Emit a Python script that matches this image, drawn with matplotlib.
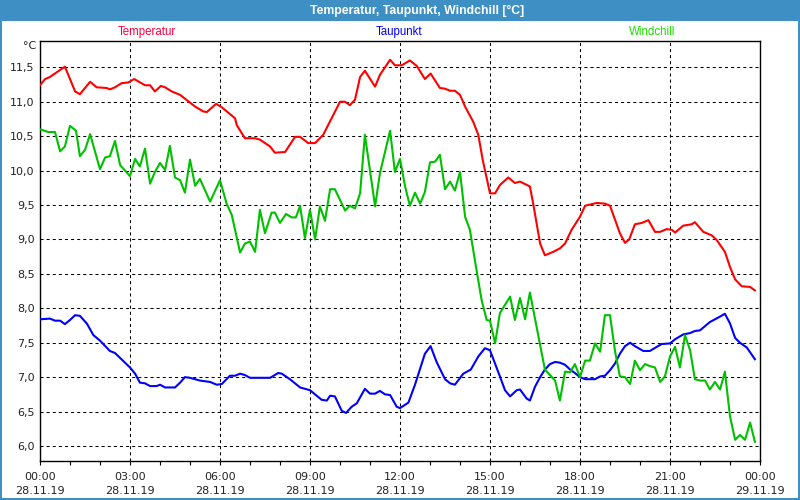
import matplotlib
matplotlib.use("Agg")
import matplotlib.pyplot as plt
from matplotlib.patches import Rectangle
import numpy as np

plt.rcParams['font.family'] = ['DejaVu Sans']
plt.rcParams['lines.scale_dashes'] = False

# ---- data (hours since 28.11.19 00:00, °C) ----
temp_t = [0, 0.17, 0.33, 0.83, 1.17, 1.33, 1.67, 1.89, 2.22, 2.33, 2.5, 2.72, 2.94, 3.14, 3.5, 3.67,
          3.83, 4.03, 4.17, 4.39, 4.67, 5.17, 5.44, 5.56, 5.87, 6.06, 6.5, 6.56, 6.83, 7.17, 7.33, 7.67,
          7.83, 8.17, 8.5, 8.67, 8.94, 9.17, 9.44, 10.0, 10.17, 10.33, 10.5, 10.67, 10.83, 11.17, 11.33,
          11.67, 11.83, 12.06, 12.33, 12.56, 12.83, 13.02, 13.33, 13.5, 13.67, 13.83, 14.0, 14.17, 14.44,
          14.61, 14.76, 15.0, 15.17, 15.33, 15.61, 15.83, 16.0, 16.33, 16.44, 16.67, 16.83, 17.11, 17.33,
          17.5, 17.72, 18.0, 18.17, 18.56, 18.83, 19.0, 19.33, 19.5, 19.64, 19.83, 20.06, 20.28, 20.5,
          20.67, 20.89, 21.06, 21.17, 21.44, 21.72, 21.83, 22.11, 22.39, 22.56, 22.83, 23.0, 23.17, 23.39,
          23.67, 23.83]
temp_v = [11.24, 11.33, 11.36, 11.51, 11.15, 11.11, 11.29, 11.21, 11.20, 11.18, 11.21, 11.27, 11.28,
          11.33, 11.24, 11.24, 11.15, 11.23, 11.21, 11.15, 11.10, 10.93, 10.86, 10.85, 10.97, 10.92,
          10.76, 10.66, 10.47, 10.47, 10.45, 10.35, 10.26, 10.27, 10.49, 10.49, 10.40, 10.40, 10.52,
          11.00, 11.00, 10.95, 11.03, 11.36, 11.45, 11.22, 11.39, 11.61, 11.53, 11.53, 11.60, 11.52,
          11.33, 11.41, 11.20, 11.19, 11.16, 11.16, 11.10, 10.93, 10.71, 10.52, 10.15, 9.67, 9.67, 9.79,
          9.90, 9.82, 9.84, 9.77, 9.52, 8.94, 8.77, 8.82, 8.87, 8.94, 9.14, 9.33, 9.49, 9.53, 9.52, 9.49,
          9.09, 8.95, 9.00, 9.22, 9.24, 9.28, 9.11, 9.11, 9.15, 9.14, 9.10, 9.20, 9.22, 9.25, 9.11, 9.06,
          8.99, 8.82, 8.60, 8.42, 8.32, 8.31, 8.26]

dew_t = [0, 0.33, 0.5, 0.67, 0.83, 1.0, 1.17, 1.33, 1.56, 1.78, 2.0, 2.33, 2.5, 3.0, 3.17, 3.33, 3.5,
         3.67, 3.89, 4.0, 4.17, 4.5, 4.67, 4.83, 5.0, 5.33, 5.67, 5.89, 6.06, 6.33, 6.5, 6.67, 6.83, 7.0,
         7.67, 7.94, 8.06, 8.33, 8.67, 9.0, 9.39, 9.56, 9.67, 9.83, 10.06, 10.2, 10.39, 10.56, 10.83,
         11.0, 11.17, 11.33, 11.5, 11.67, 11.89, 12.0, 12.28, 12.5, 12.83, 13.02, 13.22, 13.5, 13.67,
         13.83, 14.11, 14.36, 14.61, 14.83, 15.0, 15.33, 15.5, 15.67, 15.89, 16.0, 16.22, 16.33, 16.5,
         16.67, 16.83, 17.0, 17.17, 17.33, 17.5, 17.67, 17.83, 18.0, 18.17, 18.5, 18.67, 18.83, 19.0,
         19.17, 19.33, 19.5, 19.67, 19.83, 20.11, 20.33, 20.56, 20.72, 21.0, 21.17, 21.44, 21.67, 21.83,
         22.0, 22.33, 22.67, 22.83, 23.0, 23.17, 23.33, 23.56, 23.83]
dew_v = [7.84, 7.85, 7.82, 7.82, 7.77, 7.83, 7.90, 7.89, 7.78, 7.61, 7.53, 7.38, 7.35, 7.14, 7.05, 6.92,
         6.91, 6.87, 6.87, 6.89, 6.85, 6.85, 6.92, 7.00, 6.99, 6.95, 6.93, 6.89, 6.90, 7.02, 7.02, 7.05,
         7.03, 6.99, 6.99, 7.06, 7.05, 6.97, 6.85, 6.81, 6.67, 6.66, 6.73, 6.72, 6.51, 6.48, 6.57, 6.62,
         6.83, 6.76, 6.76, 6.80, 6.75, 6.74, 6.57, 6.55, 6.63, 6.89, 7.34, 7.45, 7.22, 6.97, 6.91, 6.89,
         7.05, 7.11, 7.30, 7.42, 7.39, 7.01, 6.81, 6.72, 6.81, 6.82, 6.69, 6.66, 6.86, 7.00, 7.11, 7.19,
         7.22, 7.21, 7.18, 7.11, 7.06, 7.00, 6.97, 6.97, 7.01, 7.02, 7.10, 7.20, 7.34, 7.45, 7.50, 7.45,
         7.38, 7.38, 7.44, 7.48, 7.49, 7.55, 7.62, 7.64, 7.67, 7.68, 7.80, 7.88, 7.92, 7.78, 7.57, 7.50,
         7.43, 7.26]

wc_t = [0, 0.28, 0.5, 0.67, 0.83, 1.0, 1.2, 1.33, 1.5, 1.67, 2.0, 2.17, 2.33, 2.5, 2.67, 3.0, 3.17,
        3.33, 3.5, 3.67, 3.83, 4.0, 4.17, 4.33, 4.5, 4.67, 4.83, 5.0, 5.17, 5.33, 5.67, 6.0, 6.22, 6.39,
        6.67, 6.83, 7.0, 7.17, 7.33, 7.5, 7.72, 7.83, 8.0, 8.2, 8.39, 8.53, 8.67, 8.83, 9.0, 9.17, 9.33,
        9.5, 9.67, 9.83, 10.17, 10.33, 10.5, 10.67, 10.83, 11.17, 11.33, 11.67, 11.83, 12.0, 12.17,
        12.33, 12.5, 12.67, 12.83, 13.0, 13.17, 13.33, 13.5, 13.67, 13.83, 14.0, 14.17, 14.33, 14.56,
        14.72, 14.89, 15.0, 15.17, 15.33, 15.67, 15.83, 16.0, 16.17, 16.33, 16.83, 17.0, 17.17, 17.33,
        17.5, 17.67, 17.83, 18.0, 18.17, 18.33, 18.5, 18.67, 18.83, 19.0, 19.17, 19.33, 19.5, 19.67,
        19.83, 20.0, 20.17, 20.33, 20.5, 20.67, 20.83, 21.0, 21.17, 21.33, 21.5, 21.67, 21.83, 22.0,
        22.17, 22.33, 22.5, 22.67, 22.83, 23.0, 23.17, 23.33, 23.5, 23.67, 23.83]
wc_v = [10.60, 10.56, 10.56, 10.28, 10.35, 10.65, 10.58, 10.21, 10.30, 10.53, 10.02, 10.19, 10.21,
        10.43, 10.08, 9.92, 10.17, 10.06, 10.32, 9.81, 9.98, 10.11, 10.01, 10.36, 9.90, 9.86, 9.68,
        10.16, 9.78, 9.88, 9.55, 9.86, 9.52, 9.36, 8.81, 8.94, 8.97, 8.82, 9.43, 9.09, 9.39, 9.39, 9.24,
        9.37, 9.32, 9.32, 9.49, 9.02, 9.43, 9.00, 9.48, 9.27, 9.73, 9.73, 9.42, 9.49, 9.45, 9.67, 10.52,
        9.48, 9.96, 10.58, 9.98, 10.17, 9.77, 9.49, 9.68, 9.52, 9.69, 10.12, 10.13, 10.23, 9.73, 9.84,
        9.71, 9.98, 9.33, 9.14, 8.53, 8.12, 7.83, 7.82, 7.49, 7.93, 8.17, 7.83, 8.15, 7.84, 8.23, 7.11,
        7.03, 6.95, 6.66, 7.08, 7.07, 7.19, 7.00, 7.24, 7.24, 7.49, 7.37, 7.90, 7.90, 7.37, 7.01, 7.00,
        6.90, 7.24, 7.10, 7.19, 7.16, 7.14, 6.93, 7.01, 7.30, 7.44, 7.14, 7.61, 7.39, 6.97, 6.95, 6.95,
        6.82, 6.93, 6.82, 7.08, 6.43, 6.09, 6.16, 6.09, 6.34, 6.06]

series_names = ["Temperatur", "Taupunkt", "Windchill"]
y_ticks = [6.0, 6.5, 7.0, 7.5, 8.0, 8.5, 9.0, 9.5, 10.0, 10.5, 11.0, 11.5]
x_major = [0, 3, 6, 9, 12, 15, 18, 21, 24]
x_labels = ["00:00\n28.11.19", "03:00\n28.11.19", "06:00\n28.11.19", "09:00\n28.11.19",
            "12:00\n28.11.19", "15:00\n28.11.19", "18:00\n28.11.19", "21:00\n28.11.19",
            "00:00\n29.11.19"]
title = "Temperatur, Taupunkt, Windchill [°C]"

# ---- figure ----
W, H = 800, 500
fig = plt.figure(figsize=(8, 5), dpi=100)
fig.patch.set_facecolor("white")

bar_col = "#3d8fc4"
# title bar
fig.patches.append(Rectangle((0, 1 - 21 / H), 1, 21 / H, transform=fig.transFigure,
                             facecolor=bar_col, edgecolor="none", zorder=0))
# border
for r in [(0, 0, 2 / W, 1), (1 - 2 / W, 0, 2 / W, 1), (0, 0, 1, 2 / H)]:
    fig.patches.append(Rectangle((r[0], r[1]), r[2], r[3], transform=fig.transFigure,
                                 facecolor=bar_col, edgecolor="none", zorder=0))

fig.text(417 / W, 1 - 11 / H, title, color="white", fontsize=8.8, fontweight="bold",
         family=["Liberation Sans", "DejaVu Sans"], ha="center", va="center")

ax = fig.add_axes([40 / W, 1 - 460.7 / H, 720 / W, 420 / H])
ax.set_xlim(0, 24)
ax.set_ylim(5.786, 11.887)

lw = 1.5
ax.plot(temp_t, temp_v, color="#ff0000", lw=lw, zorder=3)
ax.plot(dew_t, dew_v, color="#0000ff", lw=lw, zorder=3)
ax.plot(wc_t, wc_v, color="#00c000", lw=lw, zorder=3)

ax.set_yticks(y_ticks)
ax.set_yticklabels([f"{v:.1f}".replace(".", ",") for v in y_ticks])
ax.set_xticks(x_major)
ax.set_xticklabels(x_labels, linespacing=1.5)
ax.set_xticks(np.arange(0, 25, 1), minor=True)

ax.tick_params(axis="y", length=0, pad=4, labelsize=8, colors="#222222")
ax.tick_params(axis="x", which="both", length=3, width=0.8, direction="out", pad=5,
               labelsize=8, colors="black")
ax.tick_params(axis="x", labelcolor="#222222")

ax.grid(True, which="major", color="black", linestyle=(0, (2.2, 2.2)), linewidth=0.75)
for s in ax.spines.values():
    s.set_color("black")
    s.set_linewidth(1.0)

# header labels
hdr_font = ["Liberation Sans", "DejaVu Sans"]
fig.text(147 / W, 1 - 32 / H, series_names[0], color="#ff0040", fontsize=8.3, family=hdr_font,
         ha="center", va="center")
fig.text(399 / W, 1 - 32 / H, series_names[1], color="#0000ff", fontsize=8.3, family=hdr_font,
         ha="center", va="center")
fig.text(652 / W, 1 - 32 / H, series_names[2], color="#22dd00", fontsize=8.3, family=hdr_font,
         ha="center", va="center")
fig.text(36 / W, 1 - 46 / H, "°C", color="#222222", fontsize=8, ha="right", va="center")

fig.savefig("out.png", dpi=100)
